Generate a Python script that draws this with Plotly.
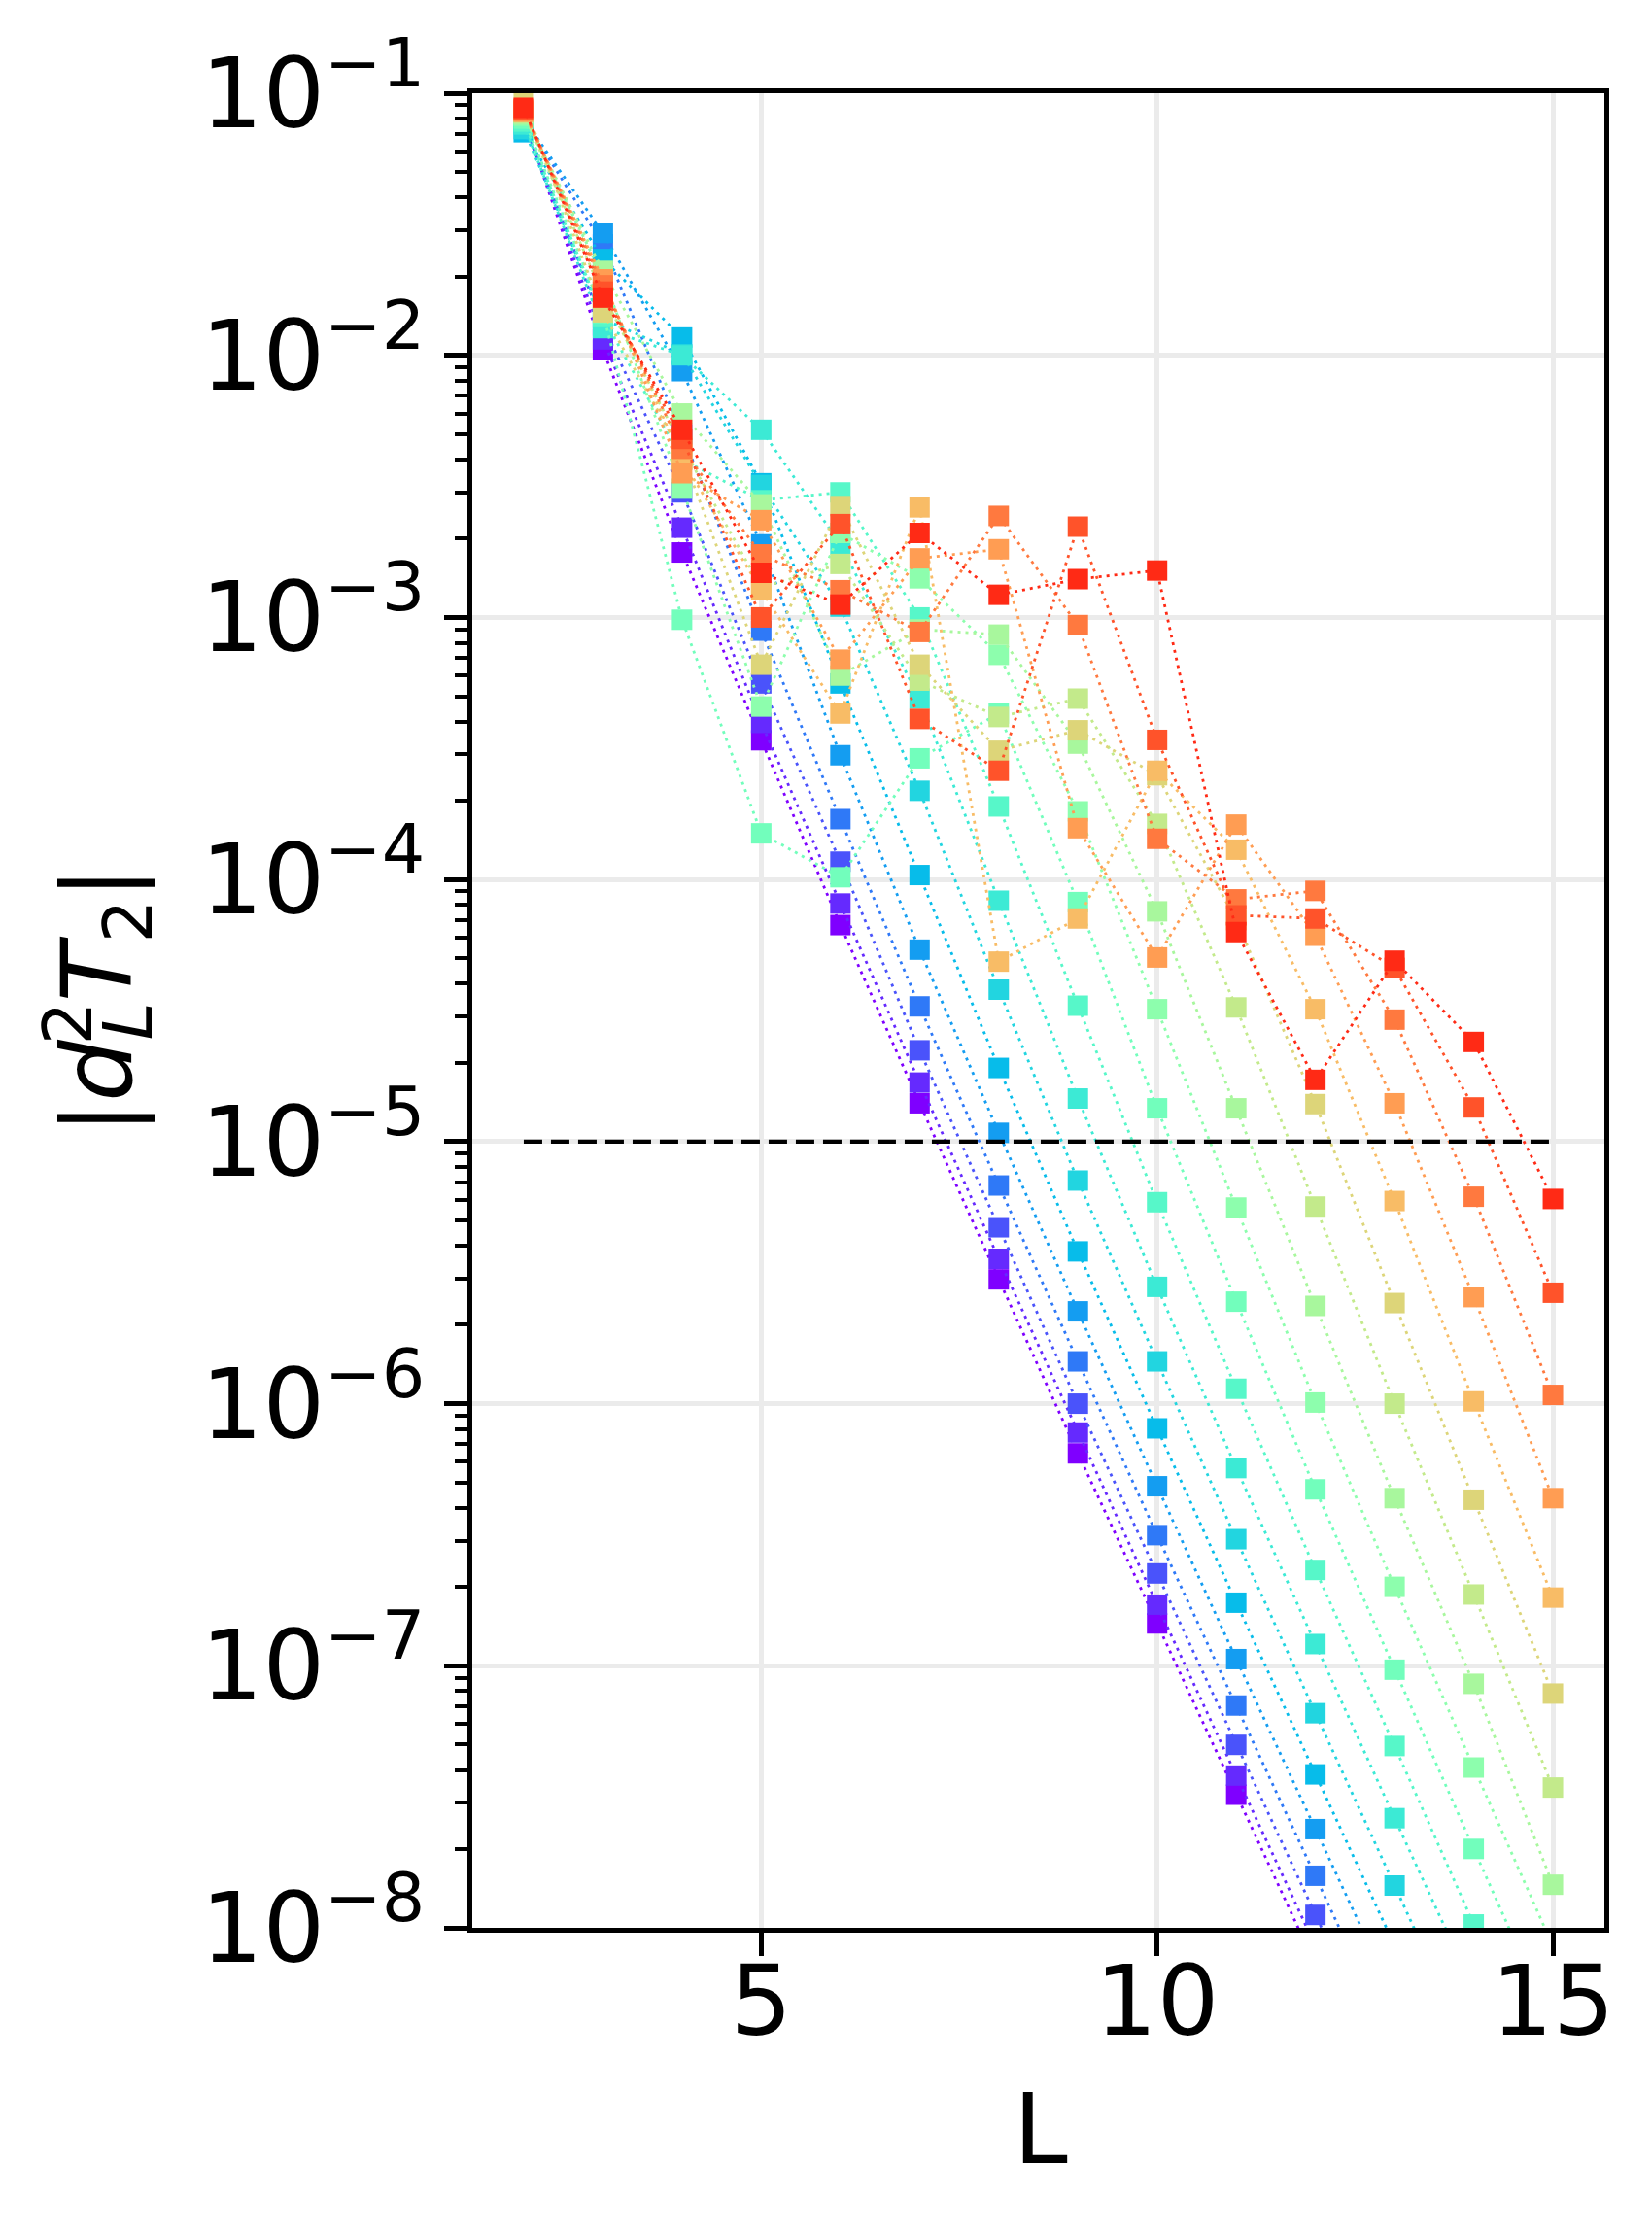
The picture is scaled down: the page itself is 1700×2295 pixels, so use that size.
import plotly.graph_objects as go

# ---------------- data ----------------
L = [2, 3, 4, 5, 6, 7, 8, 9, 10, 11, 12, 13, 14, 15]

s00 = [8.0e-2, 1.05e-2, 1.77e-3, 3.4e-4, 6.7e-5, 1.40e-5, 2.98e-6, 6.46e-7, 1.45e-7, 3.22e-8, 7.2e-9, 1.6e-9, 3.6e-10, 8.0e-11]
s01 = [8.0e-2, 1.15e-2, 2.2e-3, 3.96e-4, 8.1e-5, 1.68e-5, 3.57e-6, 7.76e-7, 1.71e-7, 3.81e-8, 8.5e-9, 1.9e-9, 4.2e-10, 9.5e-11]
s02 = [8.0e-2, 1.3e-2, 3.0e-3, 5.6e-4, 1.17e-4, 2.23e-5, 4.71e-6, 1.0e-6, 2.25e-7, 4.99e-8, 1.12e-8, 2.5e-9, 5.6e-10, 1.25e-10]
s03 = [8.0e-2, 2.65e-2, 5.0e-3, 8.9e-4, 1.7e-4, 3.28e-5, 6.8e-6, 1.45e-6, 3.15e-7, 7.05e-8, 1.58e-8, 3.5e-9, 7.8e-10, 1.75e-10]
s04 = [8.0e-2, 2.93e-2, 8.7e-3, 1.9e-3, 2.98e-4, 5.4e-5, 1.08e-5, 2.25e-6, 4.84e-7, 1.06e-7, 2.38e-8, 5.3e-9, 1.2e-9, 2.7e-10]
s05 = [7.1e-2, 2.33e-2, 1.17e-2, 3.25e-3, 5.6e-4, 1.04e-4, 1.91e-5, 3.81e-6, 8.05e-7, 1.74e-7, 3.85e-8, 8.5e-9, 1.9e-9, 4.2e-10]
s06 = [7.3e-2, 1.38e-2, 1.01e-2, 3.2e-3, 1.1e-3, 2.18e-4, 3.8e-5, 7.1e-6, 1.45e-6, 3.04e-7, 6.59e-8, 1.45e-8, 3.2e-9, 7.0e-10]
s07 = [7.6e-2, 1.27e-2, 1.0e-2, 5.2e-3, 1.9e-3, 4.9e-4, 8.3e-5, 1.46e-5, 2.79e-6, 5.68e-7, 1.21e-7, 2.62e-8, 5.8e-9, 1.3e-9]
s08 = [7.8e-2, 1.4e-2, 4.0e-3, 2.8e-3, 3.0e-3, 1.0e-3, 1.9e-4, 3.3e-5, 5.87e-6, 1.14e-6, 2.32e-7, 4.94e-8, 1.03e-8, 2.2e-9]
s09 = [8.0e-2, 1.45e-2, 9.8e-4, 1.5e-4, 1.02e-4, 2.9e-4, 4.3e-4, 8.2e-5, 1.34e-5, 2.45e-6, 4.71e-7, 9.66e-8, 2.0e-8, 4.2e-9]
s10 = [8.2e-2, 2.0e-2, 3.1e-3, 4.57e-4, 2.1e-3, 1.41e-3, 7.2e-4, 1.82e-4, 3.2e-5, 5.6e-6, 1.01e-6, 2.0e-7, 4.09e-8, 8.5e-9]
s11 = [8.3e-2, 2.1e-2, 6.0e-3, 2.7e-3, 6.0e-4, 9.0e-4, 8.6e-4, 3.3e-4, 7.56e-5, 1.34e-5, 2.36e-6, 4.36e-7, 8.53e-8, 1.46e-8]
s12 = [8.4e-2, 1.7e-2, 4.5e-3, 1.3e-3, 1.6e-3, 5.74e-4, 4.17e-4, 4.9e-4, 1.63e-4, 3.25e-5, 5.65e-6, 1.0e-6, 1.87e-7, 3.43e-8]
s13 = [9.2e-2, 1.46e-2, 4.2e-3, 6.6e-4, 2.66e-3, 6.6e-4, 3.1e-4, 3.71e-4, 2.5e-4, 7.0e-5, 1.39e-5, 2.42e-6, 4.3e-7, 7.83e-8]
s14 = [8.5e-2, 1.9e-2, 4.0e-3, 1.27e-3, 4.3e-4, 2.63e-3, 4.86e-5, 7.1e-5, 2.6e-4, 1.3e-4, 3.2e-5, 5.93e-6, 1.02e-6, 1.82e-7]
s15 = [8.5e-2, 1.95e-2, 3.55e-3, 2.35e-3, 6.9e-4, 1.68e-3, 1.82e-3, 1.57e-4, 5.04e-5, 1.62e-4, 6.1e-5, 1.4e-5, 2.55e-6, 4.36e-7]
s16 = [8.6e-2, 1.85e-2, 4.4e-3, 1.74e-3, 1.27e-3, 8.8e-4, 2.44e-3, 9.35e-4, 1.43e-4, 8.4e-5, 9.05e-5, 2.92e-5, 6.16e-6, 1.08e-6]
s17 = [8.7e-2, 1.75e-2, 4.8e-3, 1.0e-3, 2.27e-3, 4.1e-4, 2.6e-4, 2.22e-3, 3.41e-4, 7.3e-5, 7.1e-5, 4.6e-5, 1.35e-5, 2.65e-6]
s18 = [8.8e-2, 1.66e-2, 5.2e-3, 1.48e-3, 1.12e-3, 2.1e-3, 1.22e-3, 1.4e-3, 1.51e-3, 6.3e-5, 1.72e-5, 4.9e-5, 2.4e-5, 6.04e-6]

series = [s00, s01, s02, s03, s04, s05, s06, s07, s08, s09,
          s10, s11, s12, s13, s14, s15, s16, s17, s18]

threshold = 1e-5

ytick_vals = [1e-1, 1e-2, 1e-3, 1e-4, 1e-5, 1e-6, 1e-7, 1e-8]
ytick_text = ["10<sup>\u22121</sup>", "10<sup>\u22122</sup>", "10<sup>\u22123</sup>",
              "10<sup>\u22124</sup>", "10<sup>\u22125</sup>", "10<sup>\u22126</sup>",
              "10<sup>\u22127</sup>", "10<sup>\u22128</sup>"]
xtick_vals = [5, 10, 15]

# rainbow colormap samples (matplotlib 'rainbow', 20 steps)
colors = ["#7f00ff", "#652afe", "#4a53fb", "#2f79f7", "#149df1", "#07bcea",
          "#22d5e0", "#3cead5", "#57f7c9", "#72febc", "#8dfead", "#a8f79d",
          "#c3ea8b", "#ddd579", "#f8bc66", "#ff9d53", "#ff793f", "#ff532a",
          "#ff2a15"]

FONT = "DejaVu Sans"

fig = go.Figure()
for s, c in zip(series, colors):
    fig.add_trace(go.Scatter(
        x=L, y=s, mode="lines+markers",
        line=dict(color=c, width=2.8, dash="3px,5px"),
        marker=dict(symbol="square", size=21, color=c, line=dict(width=0)),
        showlegend=False,
    ))

fig.add_trace(go.Scatter(
    x=[L[0], L[-1]], y=[threshold, threshold], mode="lines",
    line=dict(color="black", width=4.3, dash="19px,9px"),
    showlegend=False,
))

fig.update_layout(
    width=1700, height=2295,
    margin=dict(l=478, r=57, t=88, b=319),
    plot_bgcolor="white", paper_bgcolor="white",
    font=dict(family=FONT, size=100, color="black"),
    xaxis=dict(
        range=[1.35, 15.65], tickmode="array", tickvals=xtick_vals,
        ticks="outside", ticklen=24, tickwidth=5, tickcolor="black",
        ticklabelstandoff=-39,
        showline=True, linecolor="black", linewidth=4.5, mirror=True,
        showgrid=True, gridcolor="#ebebeb", gridwidth=5, zeroline=False,
        tickfont=dict(family=FONT, size=100, color="black"),
    ),
    yaxis=dict(
        type="log", range=[-8, -1], tickmode="array",
        tickvals=ytick_vals, ticktext=ytick_text,
        ticks="outside", ticklen=24, tickwidth=5, tickcolor="black",
        showline=True, linecolor="black", linewidth=4.5, mirror=True,
        showgrid=True, gridcolor="#ebebeb", gridwidth=5, zeroline=False,
        tickfont=dict(family=FONT, size=100, color="black"),
        minor=dict(ticks="outside", ticklen=13, tickwidth=4, tickcolor="black",
                   dtick="D1", showgrid=False),
    ),
    annotations=[
        # y-axis title: |d_L^2 T_2| with the superscript stacked over the subscript
        dict(text="|<i>d</i><sub><i>L</i></sub><i>T</i><sub>2</sub>|",
             xref="paper", yref="paper", x=-0.325, y=0.5058,
             xanchor="center", yanchor="middle", textangle=-90, showarrow=False,
             font=dict(family=FONT, size=100, color="black")),
        dict(text="2",
             xref="paper", yref="paper", x=-0.357, y=0.493,
             xanchor="center", yanchor="middle", textangle=-90, showarrow=False,
             font=dict(family=FONT, size=70, color="black")),
        dict(text="L", xref="paper", yref="paper", x=0.502, y=-0.110,
             xanchor="center", yanchor="middle", showarrow=False,
             font=dict(family=FONT, size=100, color="black")),
    ],
)

fig.write_html("out.html")
